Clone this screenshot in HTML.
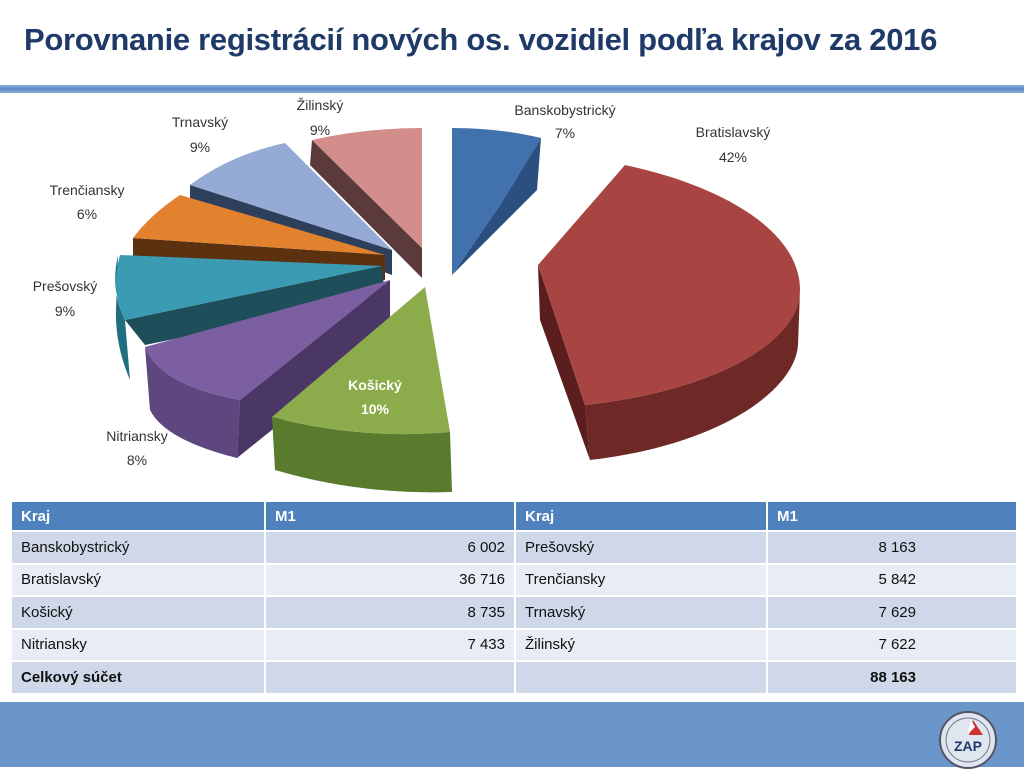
<!DOCTYPE html>
<html><head><meta charset="utf-8"><style>
body{margin:0;width:1024px;height:767px;overflow:hidden;background:#fff;font-family:"Liberation Sans",sans-serif;position:relative}
.title{position:absolute;left:24px;top:22px;font-size:31px;font-weight:bold;color:#1f3a68;letter-spacing:-0.3px;white-space:nowrap}
.bar{position:absolute;left:0;top:85px;width:1024px;height:8px;background:linear-gradient(#8fb2dc,#5b8ac6 50%,#8fb2dc)}
table{position:absolute;left:10px;top:500px;border-collapse:separate;border-spacing:2px;font-size:15px;color:#111}
td{height:30.5px;padding:0 9px;background:#cfd8e8}
tr.alt td{background:#e8ecf4}
tr.h td{background:#4f81bd;color:#fff;font-weight:bold;height:28px}
td.r{text-align:right}
.foot{position:absolute;left:0;top:702px;width:1024px;height:65px;background:#6b96c9}
</style></head><body>
<div class="title">Porovnanie registrácií nových os. vozidiel podľa krajov za 2016</div>
<div class="bar"></div>
<svg width="1024" height="500" style="position:absolute;left:0;top:0" font-family="Liberation Sans, sans-serif" font-size="14" fill="#333">
<path d="M190,185 L392,250 L392,275 L190,202 Z" fill="#2e3f5c"/>
<path d="M392,250 L190,185 Q230,155 285,143 Z" fill="#95abd6"/>
<path d="M133,238 L385,255 L385,280 L133,256 Z" fill="#5c3110"/>
<path d="M385,255 L180,195 Q150,215 133,238 Z" fill="#e2822f"/>
<path d="M312,140 L422,248 L422,278 L310,165 Z" fill="#5a3a3a"/>
<path d="M312,140 Q365,128 422,128 L422,248 Z" fill="#d38d8a"/>
<path d="M541,138 L537,190 L452,275 L500,205 Z" fill="#2b5080"/>
<path d="M452,128 Q500,128 541,138 L500,205 L452,275 Z" fill="#4272ad"/>
<path d="M118,255 Q110,290 125,320 L130,380 Q115,345 116,310 Z" fill="#1f6f80"/>
<path d="M125,320 L382,266 L385,296 L145,345 Z" fill="#1d4e5a"/>
<path d="M382,266 L120,255 Q110,290 125,320 Z" fill="#3a9bb3"/>
<path d="M145,347 Q160,385 240,400 L237,458 Q165,440 150,410 Z" fill="#5e467e"/>
<path d="M240,400 L390,280 L390,335 L237,458 Z" fill="#4a3766"/>
<path d="M390,280 L145,347 Q160,385 240,400 Z" fill="#7b5fa0"/>
<path d="M272,417 Q360,440 450,432 L452,492 Q360,495 275,470 Z" fill="#5a7a2e"/>
<path d="M425,287 L450,432 Q360,440 272,417 Z" fill="#8cab4a"/>
<path d="M538,265 L585,405 L590,460 L540,320 Z" fill="#5a1e1e"/>
<path d="M800,290 C800,340 720,390 585,405 L590,460 C720,445 795,390 798,345 Z" fill="#6e2826"/>
<path d="M538,265 L625,165 C720,185 800,230 800,290 C800,340 720,390 585,405 Z" fill="#a84442"/>
<g text-anchor="middle">
<text x="565" y="115">Banskobystrický</text><text x="565" y="138">7%</text>
<text x="733" y="137">Bratislavský</text><text x="733" y="162">42%</text>
<text x="320" y="110">Žilinský</text><text x="320" y="135">9%</text>
<text x="200" y="127">Trnavský</text><text x="200" y="152">9%</text>
<text x="87" y="195">Trenčiansky</text><text x="87" y="219">6%</text>
<text x="65" y="291">Prešovský</text><text x="65" y="316">9%</text>
<text x="137" y="441">Nitriansky</text><text x="137" y="465">8%</text>
<text x="375" y="390" fill="#fff" font-weight="bold">Košický</text><text x="375" y="414" fill="#fff" font-weight="bold">10%</text>
</g>
</svg>
<table>
<tr class="h"><td style="width:234px">Kraj</td><td style="width:230px">M1</td><td style="width:232px">Kraj</td><td style="width:230px">M1</td></tr>
<tr><td>Banskobystrický</td><td class="r">6 002</td><td>Prešovský</td><td class="r" style="padding-right:100px">8 163</td></tr>
<tr class="alt"><td>Bratislavský</td><td class="r">36 716</td><td>Trenčiansky</td><td class="r" style="padding-right:100px">5 842</td></tr>
<tr><td>Košický</td><td class="r">8 735</td><td>Trnavský</td><td class="r" style="padding-right:100px">7 629</td></tr>
<tr class="alt"><td>Nitriansky</td><td class="r">7 433</td><td>Žilinský</td><td class="r" style="padding-right:100px">7 622</td></tr>
<tr><td><b>Celkový súčet</b></td><td></td><td></td><td class="r" style="padding-right:100px"><b>88 163</b></td></tr>
</table>
<div class="foot"></div>
<svg width="70" height="70" style="position:absolute;left:935px;top:705px">
<circle cx="33" cy="35" r="28" fill="#dfe6ef" stroke="#556" stroke-width="2"/>
<circle cx="33" cy="35" r="22" fill="none" stroke="#778" stroke-width="1"/>
<path d="M38,15 L48,30 L34,30 Z" fill="#c33"/><path d="M36,15 L40,22 L32,30 Z" fill="#fff"/>
<text x="33" y="46" text-anchor="middle" font-family="Liberation Sans" font-weight="bold" font-size="14" fill="#1f3a68">ZAP</text>
</svg>
</body></html>
